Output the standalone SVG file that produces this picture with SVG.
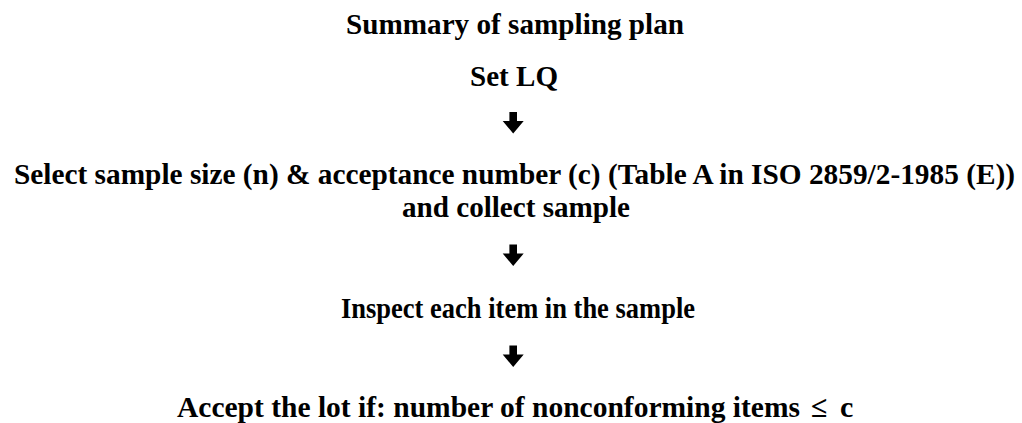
<svg xmlns="http://www.w3.org/2000/svg" xmlns:xlink="http://www.w3.org/1999/xlink" width="1022" height="423" viewBox="0 0 1022 423">
  <style>
    text { font-family: 'Liberation Serif', 'Times New Roman', Times, serif; font-weight: 700; font-size: 30px; fill: #000; }
    .long { font-size: 29px; }
  </style>
  <defs>
    <path id="arrow" d="M-3.8,0 H3.8 V9 H10.5 L0,21.5 L-10.5,9 H-3.8 Z" fill="#000"/>
  </defs>
  <rect width="1022" height="423" fill="#fff"/>

  <g id="title">
    <text x="346" y="34" textLength="338" lengthAdjust="spacingAndGlyphs">Summary of sampling plan</text>
  </g>

  <g id="node-set-lq">
    <text x="470" y="86" textLength="88" lengthAdjust="spacingAndGlyphs">Set LQ</text>
  </g>

  <g id="node-select">
    <text class="long" x="14" y="184" textLength="1001" lengthAdjust="spacingAndGlyphs">Select sample size (n) &amp; acceptance number (c) (Table A in ISO 2859/2-1985 (E))</text>
    <text x="402" y="217" textLength="228" lengthAdjust="spacingAndGlyphs">and collect sample</text>
  </g>

  <g id="node-inspect">
    <text x="341" y="318" textLength="354" lengthAdjust="spacingAndGlyphs">Inspect each item in the sample</text>
  </g>

  <g id="node-accept">
    <text x="177" y="417" textLength="623" lengthAdjust="spacingAndGlyphs">Accept the lot if: number of nonconforming items</text>
    <text x="811" y="417">≤</text>
    <text x="840" y="417">c</text>
  </g>

  <g id="connectors">
    <use xlink:href="#arrow" x="513.2" y="112"/>
    <use xlink:href="#arrow" x="513.2" y="244.5"/>
    <use xlink:href="#arrow" x="513.2" y="345.5"/>
  </g>
</svg>
